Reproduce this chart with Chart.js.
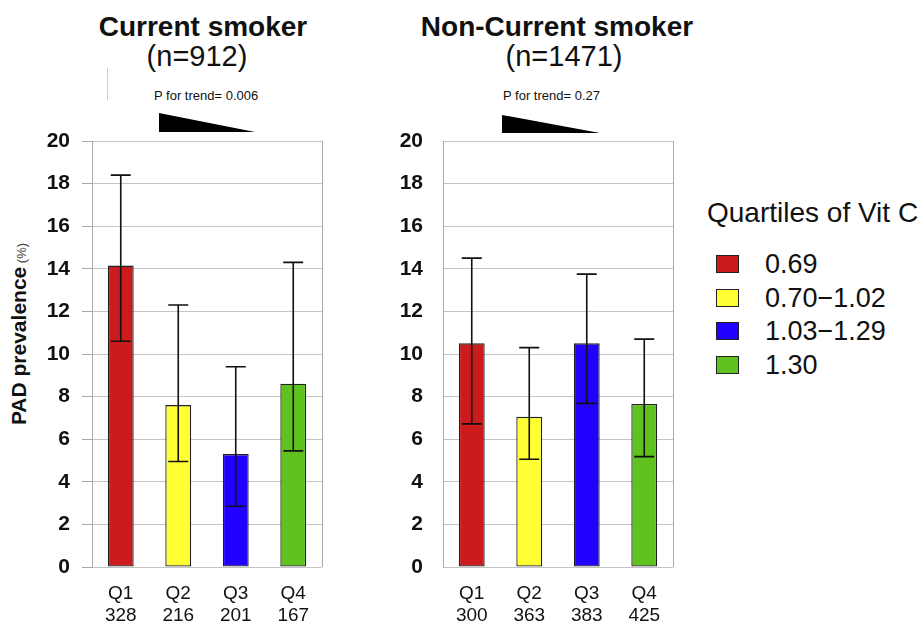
<!DOCTYPE html>
<html>
<head>
<meta charset="utf-8">
<script src="https://cdn.jsdelivr.net/npm/chart.js@4.4.1/dist/chart.umd.min.js"></script>
<style>
  body { margin: 0; background: #fff; font-family: 'Liberation Sans', Arial, sans-serif; color: #111; }
  #page { position: relative; width: 920px; height: 625px; overflow: hidden; }
  .abs { position: absolute; white-space: nowrap; line-height: 1; }
  .title { font-weight: bold; font-size: 28px; text-align: center; }
  .sub { font-size: 29px; text-align: center; }
  .ptrend { font-size: 13px; }
  .wedge { position: absolute; background: #000; clip-path: polygon(0 0, 100% 100%, 0 100%); }
  .box { position: absolute; border: 1px solid #222; box-sizing: border-box; }
  .item { font-size: 27px; }
</style>
</head>
<body>
<div id="page">
  <div class="abs" style="left:107px;top:68px;width:1px;height:32px;background:#d0d0d0"></div>

  <div class="abs title" style="left:53px;top:13px;width:300px">Current smoker</div>
  <div class="abs sub" style="left:47px;top:42px;width:300px">(n=912)</div>
  <div class="abs ptrend" style="left:154px;top:89px">P for trend= 0.006</div>
  <div class="wedge" style="left:159px;top:113px;width:96px;height:19px"></div>

  <div class="abs title" style="left:407px;top:13px;width:300px">Non-Current smoker</div>
  <div class="abs sub" style="left:414px;top:42px;width:300px">(n=1471)</div>
  <div class="abs ptrend" style="left:503px;top:89px">P for trend= 0.27</div>
  <div class="wedge" style="left:502px;top:115px;width:98px;height:18px"></div>

  <div class="abs" style="left:18px;top:334px;transform:translate(-50%,-50%) rotate(-90deg)">
    <span style="font-weight:bold;font-size:21px">PAD prevalence</span><span style="font-size:13px;color:#444"> (%)</span>
  </div>

  <div style="position:absolute;left:0;top:0;width:340px;height:625px"><canvas id="chart1"></canvas></div>
  <div style="position:absolute;left:351px;top:0;width:340px;height:625px"><canvas id="chart2"></canvas></div>

  <div id="legend"></div>
</div>

<script>
// categories
const quartileLabels = ['Q1', 'Q2', 'Q3', 'Q4'];
const quartileRanges = ['0.69', '0.70\u22121.02', '1.03\u22121.29', '1.30'];
const legendTitle = 'Quartiles of Vit C';

// current smokers (n=912)
const smokerN = [328, 216, 201, 167];
const smokerPrev = [14.15, 7.6, 5.3, 8.6];
const smokerLow = [10.6, 4.95, 2.85, 5.45];
const smokerHigh = [18.4, 12.3, 9.4, 14.3];

// non-current smokers (n=1471)
const nonSmokerN = [300, 363, 383, 425];
const nonSmokerPrev = [10.5, 7.05, 10.5, 7.65];
const nonSmokerLow = [6.72, 5.06, 7.68, 5.18];
const nonSmokerHigh = [14.5, 10.3, 13.75, 10.7];

// y axis
const yMin = 0;
const yMax = 20;
const yStep = 2;

const barColors = ['#CC1B1D', '#FFFF33', '#2200FF', '#5FC21F'];
const gridColor = '#c4c4c4';
const frameColor = '#a9a9a9';

// draws the CI whiskers on top of each bar, and the right edge of the frame
const errorBars = {
    id: 'errorBars',
    beforeDatasetsDraw(chart) {
        const a = chart.chartArea;
        const ctx = chart.ctx;
        ctx.save();
        ctx.strokeStyle = frameColor;
        ctx.lineWidth = 1;
        ctx.beginPath();
        ctx.moveTo(a.right + 0.5, a.top);
        ctx.lineTo(a.right + 0.5, a.bottom);
        ctx.stroke();
        ctx.restore();
    },
    afterDatasetsDraw(chart, args, opts) {
        const ctx = chart.ctx;
        const y = chart.scales.y;
        const meta = chart.getDatasetMeta(0);
        ctx.save();
        ctx.strokeStyle = '#111';
        ctx.lineWidth = 1.6;
        meta.data.forEach((bar, i) => {
            const lo = y.getPixelForValue(opts.low[i]);
            const hi = y.getPixelForValue(opts.high[i]);
            ctx.beginPath();
            ctx.moveTo(bar.x, lo);
            ctx.lineTo(bar.x, hi);
            ctx.moveTo(bar.x - 10, lo);
            ctx.lineTo(bar.x + 10, lo);
            ctx.moveTo(bar.x - 10, hi);
            ctx.lineTo(bar.x + 10, hi);
            ctx.stroke();
        });
        ctx.restore();
    }
};

function makeChart(canvasId, counts, prev, low, high, showTicks, labelPad) {
    const ctx = document.getElementById(canvasId).getContext('2d');
    return new Chart(ctx, {
        type: 'bar',
        data: {
            labels: quartileLabels.map((q, i) => [q, String(counts[i])]),
            datasets: [{
                data: prev,
                backgroundColor: barColors,
                borderColor: '#222',
                borderWidth: 1.3,
                borderSkipped: false,
                barPercentage: 0.9,
                categoryPercentage: 0.5
            }]
        },
        options: {
            responsive: true,
            maintainAspectRatio: false,
            animation: false,
            layout: { padding: { top: 141, right: 18, left: 0, bottom: 0 } },
            scales: {
                x: {
                    grid: { display: false, drawTicks: false },
                    border: { display: false },
                    ticks: {
                        color: '#111',
                        padding: 15,
                        font: { family: "'Liberation Sans', Arial, sans-serif", size: 19, lineHeight: 1.2 }
                    },
                    afterFit: (scale) => { scale.height = 58; }
                },
                y: {
                    min: yMin,
                    max: yMax,
                    grid: {
                        color: gridColor,
                        tickLength: 10,
                        tickColor: showTicks ? frameColor : 'rgba(0,0,0,0)'
                    },
                    border: { color: frameColor },
                    ticks: {
                        stepSize: yStep,
                        color: '#111',
                        padding: labelPad,
                        font: { family: "'Liberation Sans', Arial, sans-serif", size: 21, weight: 'bold' }
                    },
                    afterFit: (scale) => { scale.width = 92; }
                }
            },
            plugins: {
                legend: { display: false },
                tooltip: { enabled: false },
                errorBars: { low: low, high: high }
            }
        },
        plugins: [errorBars]
    });
}

makeChart('chart1', smokerN, smokerPrev, smokerLow, smokerHigh, true, 12);
makeChart('chart2', nonSmokerN, nonSmokerPrev, nonSmokerLow, nonSmokerHigh, false, 10);

// legend for the vitamin C quartiles
const legend = document.getElementById('legend');
let html = `<div class="abs" style="left:707px;top:199px;font-size:28px">${legendTitle}</div>`;
quartileRanges.forEach((r, i) => {
    const top = 251 + i * 33.5;
    html += `<div class="box" style="left:716px;top:${top + 4}px;width:23px;height:18px;background:${barColors[i]}"></div>`;
    html += `<div class="abs item" style="left:765px;top:${top}px">${r}</div>`;
});
legend.innerHTML = html;
</script>
</body>
</html>
